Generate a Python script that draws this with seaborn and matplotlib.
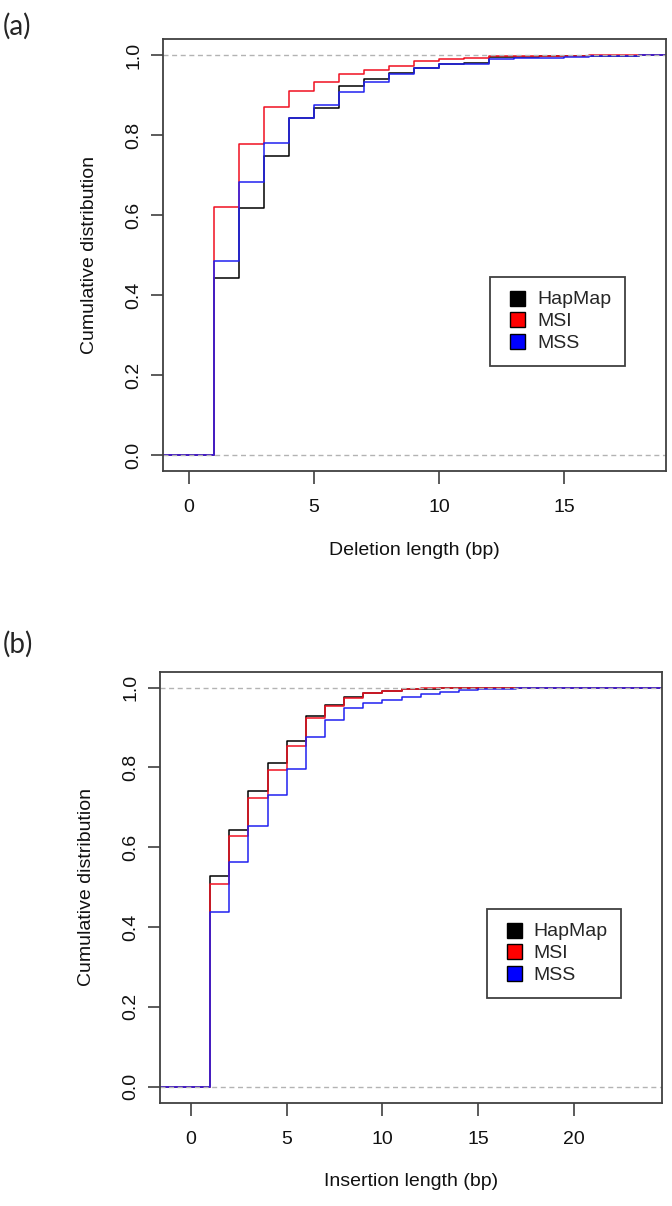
import numpy as np
import pandas as pd
import matplotlib
matplotlib.use("Agg")
import matplotlib.pyplot as plt
from matplotlib.lines import Line2D
import seaborn as sns

# ECDF values (value of the step that starts at each length)
del_len = list(range(1, 19))
del_hapmap = [0.443, 0.618, 0.747, 0.842, 0.869, 0.923, 0.940, 0.956, 0.967,
              0.979, 0.980, 0.996, 0.997, 0.998, 0.999, 0.999, 0.9995, 1.0]
del_msi = [0.620, 0.777, 0.870, 0.911, 0.932, 0.954, 0.964, 0.974, 0.985,
           0.990, 0.994, 0.9975, 0.998, 0.999, 0.9995, 1.0, 1.0, 1.0]
del_mss = [0.485, 0.682, 0.781, 0.844, 0.876, 0.908, 0.933, 0.953, 0.969,
           0.977, 0.977, 0.990, 0.992, 0.994, 0.997, 0.998, 0.999, 1.0]

ins_len = list(range(1, 24))
ins_hapmap = [0.527, 0.643, 0.742, 0.812, 0.865, 0.928, 0.956, 0.976, 0.987,
              0.992, 0.996, 0.997, 0.999, 0.999, 0.999, 0.9995, 0.9995, 0.9995,
              0.9995, 0.9995, 0.9995, 1.0, 1.0]
ins_msi = [0.507, 0.629, 0.723, 0.793, 0.854, 0.925, 0.955, 0.975, 0.986,
           0.992, 0.996, 0.998, 0.999, 0.9995, 1.0, 1.0, 1.0, 1.0,
           1.0, 1.0, 1.0, 1.0, 1.0]
ins_mss = [0.437, 0.562, 0.653, 0.731, 0.796, 0.877, 0.920, 0.949, 0.961,
           0.969, 0.976, 0.985, 0.990, 0.994, 0.997, 0.997, 1.0, 1.0,
           1.0, 1.0, 1.0, 1.0, 1.0]

samples = ["HapMap", "MSI", "MSS"]
colors = ["black", "#f01020", "#2020f0"]

sns.set_theme(style="white")
plt.rcParams["font.family"] = ["Liberation Sans", "DejaVu Sans"]
plt.rcParams["font.size"] = 14

fig = plt.figure(figsize=(6.72, 12.06), dpi=100)
ax_a = fig.add_axes([0.2430, 0.6095, 0.7476, 0.3579])
ax_b = fig.add_axes([0.2381, 0.0857, 0.7475, 0.3574])


def draw_panel(ax, lengths, series, xlim, xticks, xlabel):
    ax.set_xlim(*xlim)
    ax.set_ylim(-0.04, 1.04)
    for name, vals, col in zip(samples, series, colors):
        frame = pd.DataFrame({
            "length": [xlim[0]] + lengths + [xlim[1]],
            "cdf": [0.0] + vals + [vals[-1]],
        })
        sns.lineplot(data=frame, x="length", y="cdf", ax=ax, color=col,
                     drawstyle="steps-post", linewidth=1.1, errorbar=None)
    for h in (0.0, 1.0):
        ax.axhline(h, color="#b3b3b3", linewidth=1.0, dashes=(3.6, 2.6))

    ax.set_xticks(xticks)
    ax.set_yticks([0.0, 0.2, 0.4, 0.6, 0.8, 1.0])
    ax.set_yticklabels(["0.0", "0.2", "0.4", "0.6", "0.8", "1.0"])
    plt.setp(ax.get_yticklabels(), rotation=90, va="center")
    ax.tick_params(axis="both", direction="out", length=9, width=1.2,
                   color="#404040", labelcolor="#111111", labelsize=14)
    ax.tick_params(axis="x", pad=11.2, bottom=True)
    ax.tick_params(axis="y", pad=6, left=True)
    for sp in ax.spines.values():
        sp.set_color("#404040")
        sp.set_linewidth(1.3)
    ax.set_xlabel(xlabel, fontsize=14, labelpad=18.4, color="#111111")
    ax.set_ylabel("Cumulative distribution", fontsize=14, labelpad=19.8,
                  color="#111111")

    handles = [Line2D([], [], ls="none", marker="s", markersize=10.8,
                      markerfacecolor=c, markeredgecolor="black",
                      markeredgewidth=1.0) for c in ["black", "red", "blue"]]
    leg = ax.legend(handles, samples, loc="upper left",
                    bbox_to_anchor=(0.650, 0.449), borderaxespad=0,
                    fontsize=14, frameon=True, fancybox=False, framealpha=1,
                    borderpad=0.7, labelspacing=0.22, handlelength=1.4,
                    handletextpad=0.32)
    leg.get_frame().set_edgecolor("#404040")
    leg.get_frame().set_linewidth(1.3)


draw_panel(ax_a, del_len, [del_hapmap, del_msi, del_mss], (-1.03, 19.07),
           [0, 5, 10, 15], "Deletion length (bp)")
draw_panel(ax_b, ins_len, [ins_hapmap, ins_msi, ins_mss], (-1.62, 24.62),
           [0, 5, 10, 15, 20], "Insertion length (bp)")

fig.text(0.004, 0.978, "(a)", fontsize=20, family=["Lato", "DejaVu Sans"],
         va="center", ha="left")
fig.text(0.004, 0.466, "(b)", fontsize=20, family=["Lato", "DejaVu Sans"],
         va="center", ha="left")

fig.savefig("out.png", dpi=100)
